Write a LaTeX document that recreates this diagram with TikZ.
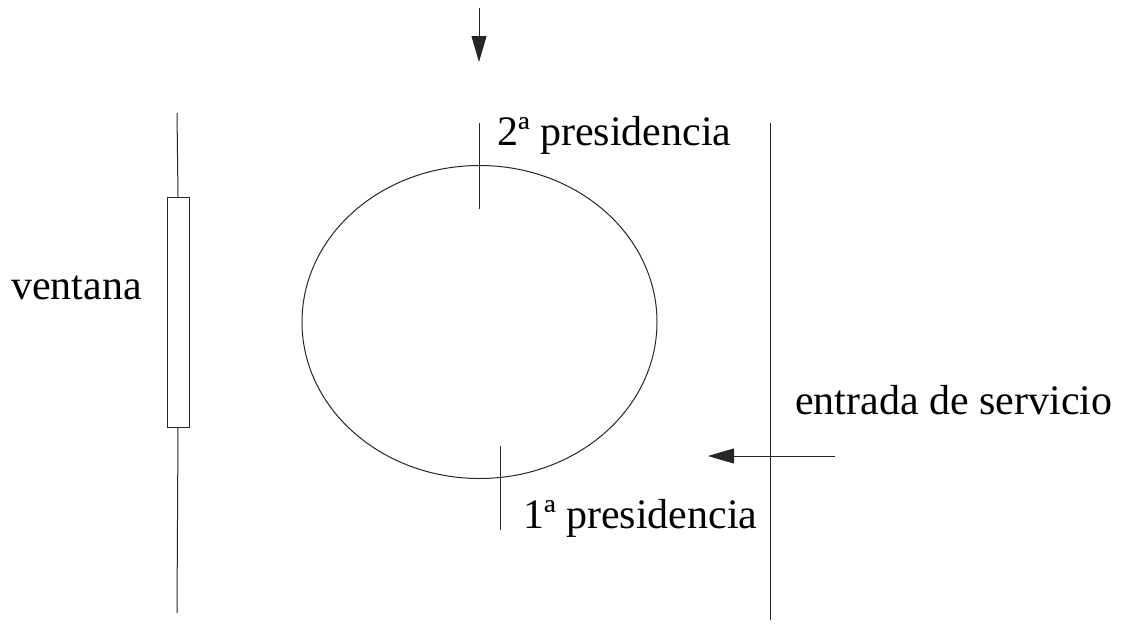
\documentclass[tikz,border=0pt]{standalone}
\usepackage{fontspec}
\setmainfont{Liberation Serif}
\usetikzlibrary{arrows.meta,shapes.geometric}
\begin{document}
\begin{tikzpicture}[x=1pt,y=-1pt,
  ln/.style={line width=1pt,draw=black!85},
  arr/.style={ln,-{Triangle[length=26pt,width=15pt]}},
  lbl/.style={font=\fontsize{42}{50}\selectfont,inner sep=0pt,anchor=base west}]
\useasboundingbox (0,0) rectangle (1122,625);
% top arrow
\coordinate (ta) at (479,8);
\coordinate (tb) at (479,62);
\draw[arr] (ta) -- (tb);
% table (ellipse)
\node[ellipse,ln,minimum width=355pt,minimum height=313pt,inner sep=0pt] (mesa) at (479.5,322) {};
% presidency marks
\coordinate (p2a) at (479,123);
\coordinate (p2b) at (479,209);
\draw[ln] (p2a) -- (p2b);
\coordinate (p1a) at (500,446);
\coordinate (p1b) at (500,530);
\draw[ln] (p1a) -- (p1b);
\node[lbl] (t2) at (497,145) {2ª presidencia};
\node[lbl] (t1) at (523,528) {1ª presidencia};
% window wall
\coordinate (wa) at (177,113);
\coordinate (wb) at (177,613);
\node[ln,minimum width=22pt,minimum height=230pt,inner sep=0pt,fill=white] (win) at (178,312) {};
\draw[ln] (wa) -- (win.north);
\draw[ln] (win.south) -- (wb);
\node[lbl] (tv) at (11,299) {ventana};
% right wall
\coordinate (ra) at (770,123);
\coordinate (rb) at (770,620);
\draw[ln] (ra) -- (rb);
% service entrance arrow
\coordinate (ea) at (835,456);
\coordinate (eb) at (708,456);
\draw[arr] (ea) -- (eb);
\node[lbl] (te) at (795,414) {entrada de servicio};
\end{tikzpicture}
\end{document}
